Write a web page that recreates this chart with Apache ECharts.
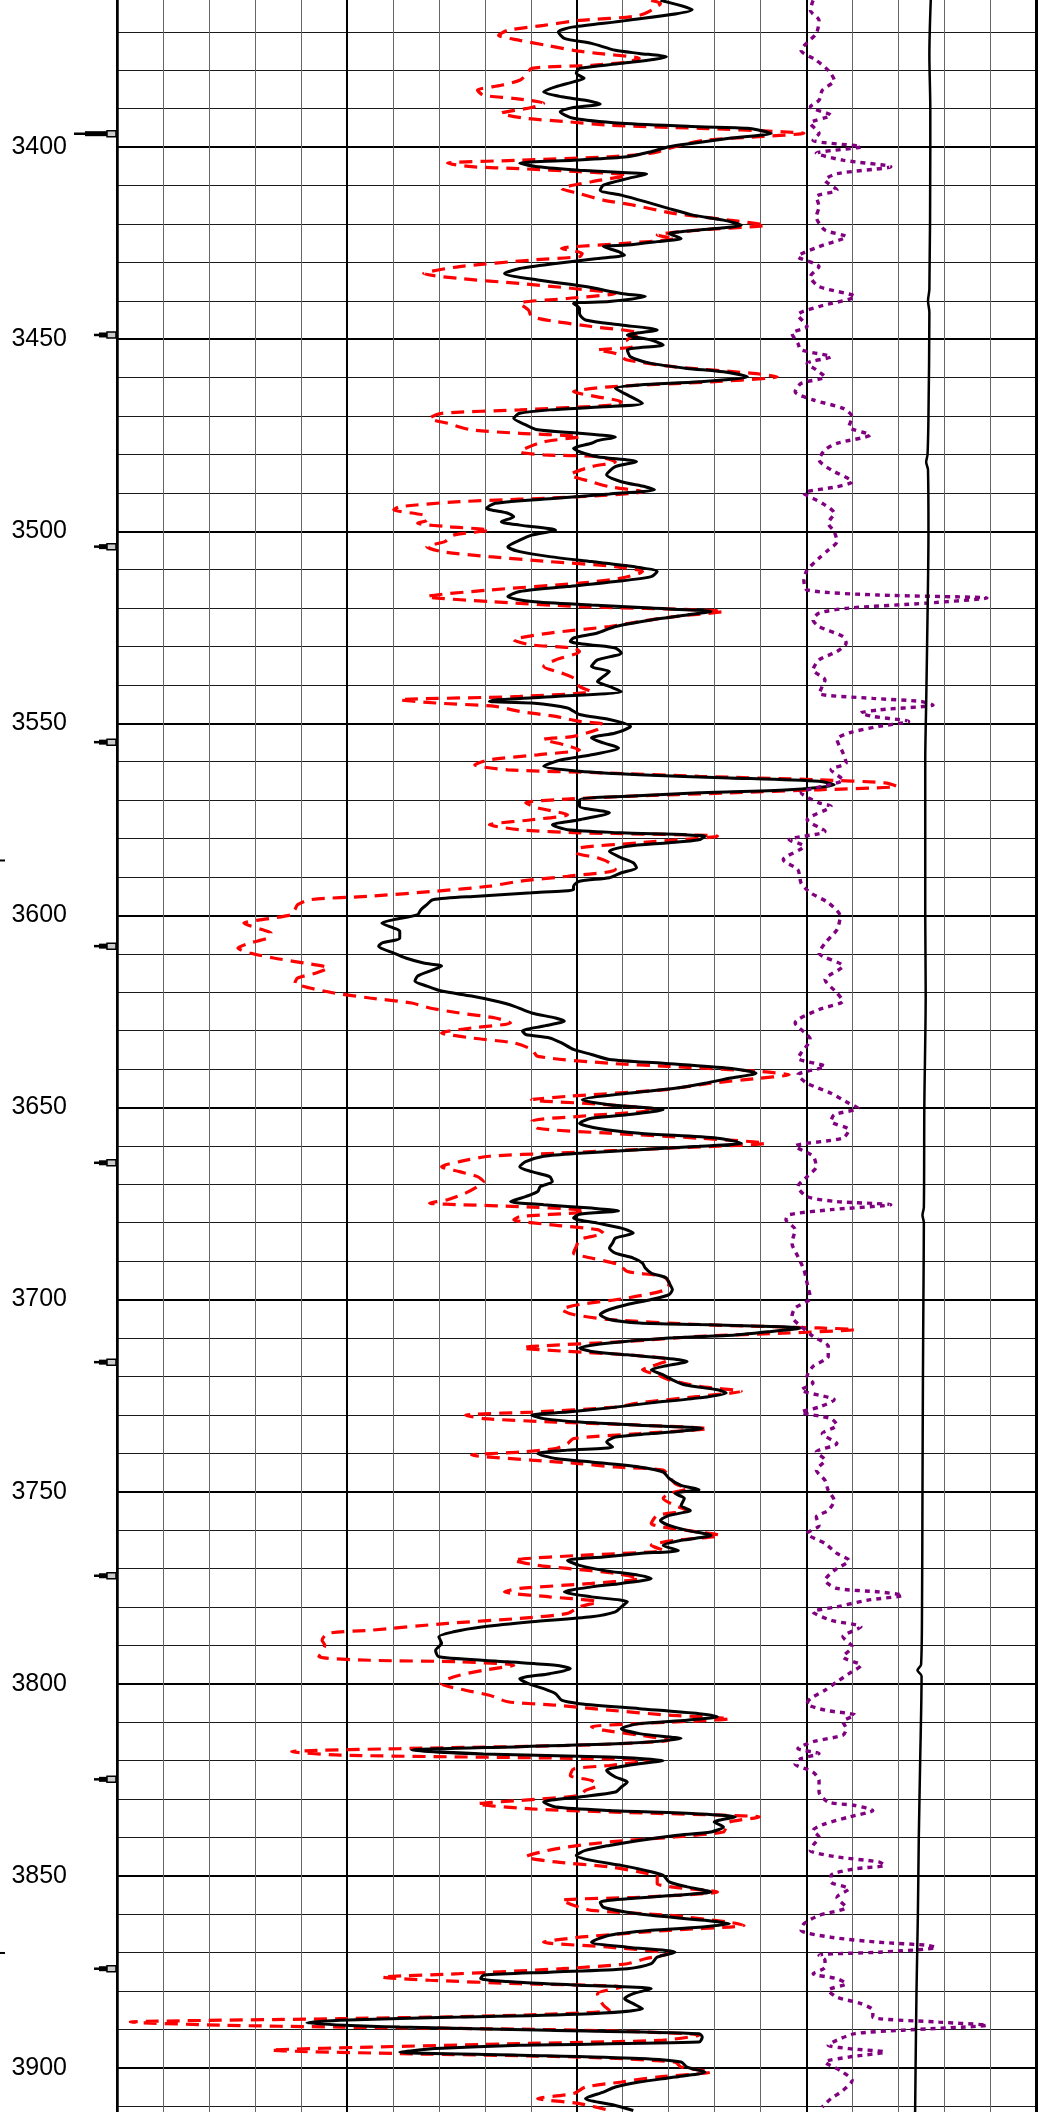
<!DOCTYPE html>
<html>
<head>
<meta charset="utf-8">
<script src="https://cdn.jsdelivr.net/npm/echarts@6/dist/echarts.min.js"></script>
<style>
html,body{margin:0;padding:0;background:#fff;}
#chart{width:1045px;height:2112px;}
</style>
</head>
<body>
<div id="chart"></div>
<script>
// depth range shown
const depthTop = 3361.7;
const depthBottom = 3911.5;
// depth labels on the left
const depthLabels = [3400, 3450, 3500, 3550, 3600, 3650, 3700, 3750, 3800, 3850, 3900];
// horizontal grid every 10, bold every 50
const minorDepthLines = [];
for (let d = 3370; d <= 3910; d += 10) minorDepthLines.push(d);
const majorDepthLines = depthLabels.slice();

// solid black curve [value, depth]
const blackCurve = [
[11.82,3361.8],[12.51,3364.2],[11.10,3367.0],[9.93,3368.7],[9.60,3370.0],[9.73,3371.7],[10.32,3373.0],[10.84,3374.8],[11.36,3375.6],[11.95,3376.5],[10.97,3378.2],[10.06,3379.5],[9.99,3380.8],[10.16,3382.1],[9.93,3383.0],[9.54,3384.3],[9.28,3385.6],[9.67,3386.9],[10.19,3387.8],[10.51,3388.8],[9.93,3389.7],[9.64,3390.8],[9.93,3392.5],[10.97,3393.8],[12.66,3394.7],[13.71,3395.1],[14.23,3396.4],[13.32,3397.7],[12.53,3399.0],[12.01,3399.9],[11.62,3401.2],[11.10,3402.5],[9.93,3403.4],[8.76,3404.2],[9.15,3405.1],[10.06,3406.0],[11.10,3406.7],[11.52,3407.0],[11.10,3408.2],[10.58,3409.9],[10.51,3411.2],[10.97,3412.5],[11.49,3414.2],[12.01,3416.0],[12.53,3417.7],[13.19,3419.0],[13.58,3420.3],[12.66,3421.6],[12.01,3422.5],[12.27,3423.8],[11.75,3424.6],[11.10,3425.5],[10.58,3425.9],[10.91,3427.2],[11.04,3428.1],[10.45,3429.0],[9.54,3430.3],[8.76,3431.6],[8.43,3432.9],[9.15,3434.6],[10.19,3436.3],[10.97,3438.1],[11.49,3438.9],[10.71,3440.2],[9.93,3440.7],[10.06,3442.0],[10.06,3443.3],[10.19,3445.0],[10.97,3446.3],[11.75,3447.6],[11.10,3448.9],[11.62,3450.2],[11.88,3451.5],
[11.10,3452.8],[11.17,3454.6],[11.62,3456.3],[12.40,3457.6],[13.19,3458.5],[13.71,3459.8],[12.66,3461.1],[11.36,3461.9],[10.84,3462.8],[11.10,3464.5],[11.43,3466.7],[10.58,3467.6],[9.41,3468.4],[8.76,3469.3],[8.63,3470.6],[8.89,3472.3],[9.15,3473.6],[10.06,3474.5],[10.84,3475.5],[10.45,3476.4],[10.32,3477.1],[9.93,3478.4],[10.06,3479.3],[10.45,3480.6],[11.30,3481.9],[10.84,3483.2],[10.65,3485.3],[10.97,3487.1],[11.49,3488.4],[11.69,3489.2],[10.71,3490.3],[9.54,3491.4],[8.23,3492.7],[8.04,3494.0],[8.50,3495.3],[8.63,3496.2],[8.36,3497.5],[8.76,3498.4],[9.54,3499.7],[9.02,3501.0],[8.76,3502.3],[8.50,3504.0],[8.76,3505.3],[9.41,3506.6],[10.32,3507.9],[11.23,3509.2],[11.75,3510.5],[11.62,3511.8],[10.84,3513.1],[9.80,3514.4],[8.76,3515.7],[8.50,3517.0],[9.02,3518.3],[10.32,3519.2],[11.62,3520.0],[12.92,3520.9],[12.40,3521.8],[11.62,3523.1],[10.84,3524.8],[10.45,3526.5],[9.93,3527.8],[9.86,3528.7],[10.32,3529.6],[10.84,3530.4],[10.97,3531.7],[10.45,3533.5],[10.32,3535.2],[10.71,3536.5],[10.58,3537.8],[10.45,3539.1],[10.71,3540.4],[10.97,3541.7],[9.54,3543.0],[8.23,3543.9],[8.10,3544.3],
[9.02,3544.7],[9.80,3546.0],[10.06,3547.7],[10.71,3549.0],[11.17,3550.8],[10.84,3552.5],[10.32,3553.8],[10.58,3555.1],[10.91,3556.4],[10.32,3558.2],[9.67,3559.5],[9.28,3561.2],[10.06,3562.5],[11.36,3563.4],[13.32,3564.2],[15.27,3565.1],[15.60,3566.0],[14.62,3567.3],[12.66,3568.1],[11.10,3569.0],[10.06,3569.9],[10.06,3571.6],[10.71,3573.3],[10.06,3575.1],[9.47,3576.4],[9.80,3577.7],[10.97,3578.5],[12.79,3579.4],[12.66,3580.3],[12.01,3581.1],[11.10,3582.0],[10.71,3583.3],[10.97,3585.0],[11.23,3586.3],[11.30,3587.6],[10.97,3588.9],[10.71,3590.2],[10.06,3591.1],[9.93,3592.4],[9.93,3593.3],[9.02,3594.1],[7.84,3595.0],[6.87,3595.9],[6.74,3597.2],[6.61,3598.5],[6.54,3599.8],[6.02,3601.1],[5.76,3602.0],[6.02,3603.3],[6.15,3604.1],[6.15,3605.9],[5.76,3607.2],[5.69,3608.0],[6.02,3609.8],[6.28,3611.1],[6.67,3612.4],[7.06,3613.2],[6.80,3614.5],[6.54,3615.8],[6.48,3617.1],[6.74,3618.4],[7.06,3619.7],[7.71,3621.0],[8.23,3622.3],[8.63,3623.6],[9.02,3625.4],[9.54,3626.7],[9.73,3627.5],[9.28,3628.8],[8.82,3630.1],[8.89,3631.0],[9.41,3631.9],[9.67,3633.2],[9.93,3634.9],[10.32,3636.2],[10.71,3637.5],
[11.88,3638.5],[13.32,3639.8],[13.90,3641.1],[13.32,3642.4],[12.79,3643.7],[12.14,3645.0],[11.10,3646.3],[10.12,3648.0],[10.71,3649.3],[11.88,3650.6],[11.10,3651.9],[10.32,3652.8],[10.06,3654.1],[10.45,3655.4],[11.36,3656.7],[13.06,3658.0],[13.58,3659.3],[12.66,3660.1],[11.36,3661.0],[10.06,3661.9],[9.28,3662.7],[8.89,3664.1],[8.76,3665.4],[9.02,3666.7],[9.41,3668.0],[9.47,3669.3],[9.21,3670.6],[9.15,3671.9],[8.89,3673.2],[8.56,3674.5],[9.28,3675.3],[10.32,3676.2],[10.91,3676.9],[10.06,3677.8],[9.93,3678.8],[10.45,3680.1],[10.97,3681.4],[11.23,3682.7],[10.84,3684.0],[10.78,3685.3],[10.71,3686.6],[10.84,3687.9],[11.23,3689.2],[11.43,3690.5],[11.49,3691.8],[11.62,3693.1],[11.95,3694.4],[12.01,3695.7],[12.08,3697.4],[12.01,3698.7],[11.62,3700.0],[11.10,3701.3],[10.71,3702.6],[10.51,3703.9],[10.71,3705.2],[11.36,3706.1],[12.66,3706.5],[14.23,3707.0],[14.88,3707.4],[14.23,3708.3],[13.45,3709.2],[12.01,3710.0],[10.71,3711.3],[10.06,3712.6],[10.32,3713.5],[11.10,3714.4],[11.88,3715.2],[12.40,3716.1],[11.88,3717.4],[11.62,3718.3],[11.88,3719.6],[12.08,3720.9],[12.34,3722.2],[13.06,3723.5],[13.25,3724.3],[12.66,3725.6],[11.62,3726.9],[10.71,3728.2],
[9.80,3729.3],[9.02,3730.1],[9.28,3731.0],[10.06,3731.9],[11.36,3732.7],[12.73,3733.6],[11.62,3734.9],[10.84,3735.8],[10.65,3737.1],[10.78,3738.4],[9.80,3739.2],[9.15,3740.1],[9.54,3741.4],[10.32,3742.3],[11.36,3743.6],[11.88,3744.9],[12.01,3746.6],[12.27,3748.4],[12.66,3749.5],[12.14,3750.5],[12.34,3751.8],[12.27,3753.6],[12.47,3754.9],[12.01,3756.2],[11.82,3757.5],[12.01,3758.8],[12.40,3760.1],[12.92,3761.4],[12.27,3762.7],[11.88,3764.0],[12.21,3765.3],[11.36,3766.1],[10.58,3767.0],[9.80,3767.9],[10.06,3769.2],[10.58,3770.5],[11.36,3771.8],[11.62,3772.6],[10.97,3773.9],[10.32,3774.8],[9.73,3776.1],[10.32,3777.4],[11.10,3778.7],[10.97,3780.0],[10.84,3781.3],[10.32,3782.6],[9.02,3783.9],[7.97,3785.2],[7.32,3786.5],[7.00,3787.8],[7.06,3789.5],[6.93,3791.3],[7.00,3793.0],[8.50,3794.3],[9.54,3795.2],[9.86,3796.1],[9.41,3797.4],[8.76,3798.7],[8.95,3800.0],[9.28,3801.3],[9.54,3802.6],[9.67,3804.3],[10.06,3805.2],[11.36,3806.5],[12.66,3807.8],[13.06,3808.6],[12.40,3809.5],[11.36,3810.4],[10.97,3811.7],[11.36,3813.0],[12.27,3814.3],[10.97,3815.6],[8.76,3816.4],[6.41,3817.3],[7.97,3818.3],[10.71,3819.1],
[11.88,3820.0],[11.10,3821.3],[10.65,3822.6],[10.84,3824.3],[11.10,3825.6],[10.97,3826.9],[10.84,3828.2],[10.06,3829.5],[9.28,3830.8],[9.54,3832.1],[10.71,3833.0],[12.66,3833.9],[13.45,3834.7],[12.99,3836.0],[13.19,3837.3],[12.92,3838.6],[12.14,3839.5],[11.36,3840.8],[10.71,3842.1],[10.19,3843.4],[9.99,3844.7],[10.32,3846.0],[10.97,3847.3],[11.49,3848.6],[11.88,3849.9],[12.01,3851.6],[12.40,3852.9],[12.92,3854.2],[12.14,3855.1],[11.10,3856.0],[10.51,3856.9],[10.58,3858.2],[11.10,3859.5],[11.62,3860.3],[12.79,3861.6],[13.32,3862.5],[12.66,3863.4],[11.62,3864.2],[10.71,3865.5],[10.32,3867.3],[11.10,3868.6],[12.14,3869.9],[11.75,3871.2],[11.62,3872.9],[11.10,3874.2],[9.41,3875.1],[7.97,3875.9],[7.91,3876.8],[8.76,3877.7],[10.06,3878.5],[11.62,3879.4],[11.23,3880.7],[11.04,3882.0],[11.23,3883.3],[11.43,3884.6],[10.32,3885.9],[7.45,3886.8],[4.85,3887.6],[4.13,3888.3],[6.15,3889.4],[9.41,3890.2],[12.66,3891.1],[12.73,3892.0],[12.66,3893.3],[8.76,3894.1],[6.93,3895.0],[6.15,3895.9],[8.76,3896.7],[11.36,3897.6],[12.27,3898.5],[12.40,3899.8],[12.79,3901.1],[12.14,3902.4],[11.36,3903.7],[10.84,3905.0],[10.58,3906.3],[10.19,3908.0],[10.84,3909.8],[11.23,3911.1]
];

// red dashed curve [value, depth]
const redCurve = [
[11.62,3361.8],[11.82,3362.6],[11.36,3365.7],[10.06,3367.0],[9.28,3368.3],[8.50,3369.6],[8.30,3370.9],[8.76,3372.2],[9.34,3373.5],[9.93,3374.8],[10.45,3375.6],[11.36,3376.9],[11.10,3377.8],[10.32,3378.7],[9.02,3379.5],[8.89,3381.3],[8.76,3382.6],[8.36,3383.9],[7.84,3385.2],[7.97,3386.5],[8.63,3387.3],[9.28,3388.6],[9.02,3389.7],[8.36,3391.2],[8.89,3392.5],[9.80,3393.4],[10.71,3394.3],[12.66,3395.1],[14.49,3396.0],[14.94,3396.4],[13.97,3397.3],[12.79,3398.2],[12.14,3399.9],[11.62,3401.6],[10.71,3402.5],[8.76,3403.4],[7.19,3404.2],[7.71,3405.1],[8.76,3405.6],[10.06,3406.4],[11.10,3407.3],[10.32,3409.0],[9.67,3410.8],[10.06,3412.1],[10.58,3413.8],[11.23,3415.1],[12.14,3417.3],[13.32,3419.0],[14.10,3420.3],[12.66,3421.6],[11.75,3422.9],[12.14,3423.8],[10.97,3425.1],[9.67,3426.4],[10.12,3427.7],[10.06,3428.5],[9.02,3429.4],[7.45,3431.1],[6.67,3432.9],[7.45,3434.2],[8.76,3435.5],[9.93,3436.8],[10.84,3438.1],[9.80,3439.4],[8.76,3440.7],[8.95,3442.4],[9.02,3444.1],[9.54,3445.4],[10.32,3446.7],[11.36,3448.5],[11.10,3450.2],[11.23,3451.9],
[10.45,3452.8],[10.84,3453.7],[11.10,3455.4],[12.14,3457.2],[13.84,3458.9],[14.36,3459.8],[12.92,3461.1],[10.71,3462.4],[9.93,3463.7],[10.45,3465.0],[10.97,3466.3],[10.84,3467.1],[8.76,3468.4],[7.06,3469.3],[6.80,3470.6],[7.19,3471.9],[7.71,3473.6],[8.76,3474.5],[10.06,3475.4],[9.28,3476.7],[8.89,3478.4],[8.76,3479.3],[9.28,3480.1],[10.45,3480.6],[10.84,3481.9],[10.32,3483.2],[9.86,3485.3],[10.32,3487.1],[10.71,3488.4],[11.43,3489.7],[10.06,3491.0],[7.45,3492.3],[6.15,3493.6],[6.02,3494.4],[6.67,3495.8],[6.74,3497.1],[6.54,3497.9],[7.19,3498.8],[8.10,3499.7],[7.32,3501.0],[7.13,3502.7],[6.74,3504.0],[7.06,3505.3],[8.10,3506.6],[9.41,3507.9],[10.84,3509.2],[11.43,3510.5],[10.97,3512.2],[10.06,3513.5],[8.10,3515.3],[6.74,3517.0],[8.10,3518.3],[10.06,3519.6],[13.19,3520.9],[12.14,3522.2],[11.36,3523.5],[10.71,3524.8],[9.41,3526.5],[8.63,3528.3],[9.02,3529.6],[9.93,3530.4],[10.06,3531.3],[9.54,3533.5],[9.28,3535.2],[9.67,3536.9],[9.93,3538.2],[10.06,3540.4],[10.32,3541.7],[8.76,3543.0],[6.15,3543.9],
[6.93,3544.7],[8.23,3545.6],[8.76,3546.9],[9.54,3548.2],[10.06,3549.5],[10.58,3550.3],[10.45,3551.6],[9.93,3553.4],[9.28,3554.2],[9.73,3555.6],[10.06,3556.9],[9.15,3558.2],[8.10,3559.5],[7.78,3560.8],[8.50,3562.1],[10.58,3562.9],[12.66,3563.8],[15.27,3564.7],[16.70,3565.5],[16.96,3566.4],[15.27,3567.3],[13.32,3568.1],[11.10,3569.0],[9.54,3569.9],[8.89,3570.7],[9.15,3572.0],[9.80,3573.8],[9.02,3575.1],[8.10,3576.4],[8.76,3577.7],[10.06,3578.5],[13.06,3579.4],[11.36,3581.1],[10.06,3582.4],[9.99,3583.7],[10.45,3585.0],[10.71,3586.3],[10.84,3588.1],[9.80,3589.8],[8.76,3591.1],[8.10,3592.4],[6.93,3593.7],[5.50,3595.0],[4.20,3595.9],[3.93,3597.2],[3.87,3598.5],[3.80,3599.8],[3.15,3601.1],[2.76,3602.0],[3.15,3603.7],[3.35,3604.6],[3.28,3605.9],[2.89,3607.2],[2.63,3608.5],[2.89,3609.8],[3.41,3611.1],[4.07,3612.4],[4.59,3613.7],[4.33,3615.0],[3.93,3616.3],[3.87,3617.6],[4.20,3618.9],[4.72,3620.2],[5.50,3621.5],[6.41,3622.8],[6.80,3624.1],[7.45,3625.4],[8.23,3626.7],[8.56,3628.0],[7.71,3629.3],[7.06,3630.6],[7.71,3631.9],[8.63,3633.2],[9.02,3634.9],
[9.15,3636.7],[10.71,3638.5],[12.01,3639.3],[13.97,3640.6],[14.62,3641.5],[13.97,3642.4],[12.92,3643.7],[11.88,3645.4],[9.80,3647.1],[9.02,3648.0],[10.71,3649.3],[11.75,3650.6],[10.06,3652.3],[9.02,3653.6],[9.15,3655.4],[10.71,3656.7],[12.66,3658.0],[14.10,3659.3],[12.01,3660.6],[9.54,3661.9],[8.10,3662.7],[7.45,3664.1],[7.06,3665.4],[7.45,3666.7],[7.84,3668.0],[7.97,3669.3],[7.84,3670.6],[7.58,3672.3],[7.19,3674.0],[6.80,3674.9],[7.45,3675.3],[8.76,3675.8],[10.06,3676.6],[10.19,3677.1],[8.76,3678.4],[8.63,3679.2],[9.41,3680.5],[10.45,3681.8],[10.58,3682.7],[10.06,3684.4],[9.99,3686.2],[9.93,3687.9],[10.32,3689.2],[10.91,3690.9],[11.10,3692.7],[11.88,3694.0],[12.01,3695.7],[11.95,3697.4],[11.10,3699.6],[10.06,3701.3],[9.67,3702.6],[9.93,3703.9],[10.71,3705.2],[12.66,3706.5],[15.27,3707.4],[16.05,3707.8],[14.62,3708.7],[12.66,3709.6],[11.10,3710.9],[9.02,3712.2],[8.82,3712.6],[9.80,3713.5],[11.10,3714.4],[12.01,3715.7],[11.62,3717.4],[11.43,3718.3],[11.75,3719.6],[12.01,3720.9],[12.66,3722.6],[13.58,3723.9],[12.66,3725.2],[11.36,3726.9],
[10.84,3728.0],[9.02,3729.3],[7.58,3730.1],[7.97,3731.0],[9.54,3731.9],[11.36,3732.7],[12.86,3733.6],[11.36,3734.9],[9.93,3736.2],[9.80,3737.5],[9.54,3738.8],[8.76,3739.7],[7.71,3740.5],[9.02,3741.8],[10.06,3742.7],[10.84,3743.6],[11.88,3744.4],[12.01,3746.2],[12.14,3747.9],[12.40,3749.2],[12.01,3750.5],[11.88,3751.8],[12.14,3753.6],[12.40,3754.9],[11.75,3756.2],[11.62,3758.3],[12.40,3760.1],[13.12,3761.4],[12.14,3762.7],[11.62,3764.0],[11.88,3765.3],[10.06,3766.6],[8.63,3767.9],[9.15,3769.2],[9.80,3770.0],[10.84,3771.3],[11.36,3772.6],[10.32,3773.9],[8.76,3775.2],[8.43,3776.1],[9.41,3777.4],[10.45,3778.7],[10.06,3780.0],[9.80,3781.7],[8.76,3783.0],[7.19,3784.3],[5.50,3786.1],[4.59,3786.9],[4.46,3788.7],[4.52,3790.0],[4.46,3791.7],[4.39,3793.0],[5.50,3793.9],[7.45,3794.3],[8.63,3795.2],[7.97,3796.5],[7.45,3797.8],[7.13,3799.1],[7.06,3800.0],[7.58,3801.7],[8.10,3803.0],[8.50,3804.7],[9.54,3805.6],[10.71,3806.9],[12.01,3808.2],[13.32,3809.1],[11.36,3810.4],[10.32,3811.2],[10.58,3812.1],[11.36,3813.4],[12.01,3814.7],[10.06,3816.0],[6.15,3816.9],[3.80,3817.7],[4.85,3818.6],
[11.62,3820.0],[10.71,3821.3],[9.93,3822.2],[9.86,3823.9],[10.32,3825.2],[10.45,3826.5],[10.19,3827.8],[10.06,3829.1],[8.76,3830.4],[7.84,3831.3],[9.02,3832.6],[10.71,3833.4],[13.32,3834.3],[13.97,3834.7],[13.32,3836.0],[13.25,3837.3],[13.19,3838.6],[12.14,3839.9],[10.71,3841.2],[9.54,3843.0],[8.89,3845.1],[9.54,3846.4],[10.71,3847.7],[11.36,3849.0],[11.75,3850.3],[11.75,3852.1],[13.06,3854.2],[11.36,3855.6],[9.67,3856.4],[9.93,3857.7],[10.32,3859.0],[12.01,3860.3],[13.32,3862.1],[13.64,3862.9],[12.01,3864.2],[10.06,3866.0],[9.28,3867.3],[10.71,3868.6],[12.01,3870.3],[11.49,3871.6],[11.10,3872.9],[9.67,3874.2],[7.45,3875.5],[5.76,3876.4],[6.80,3877.2],[8.76,3878.1],[10.97,3879.0],[10.45,3880.7],[10.51,3882.4],[10.58,3883.7],[10.71,3885.0],[8.76,3886.3],[4.85,3887.2],[0.29,3888.1],[2.24,3888.9],[4.85,3889.4],[10.06,3890.2],[12.66,3891.5],[11.88,3892.8],[8.76,3893.7],[5.50,3894.6],[3.35,3895.4],[6.15,3896.3],[10.06,3897.2],[12.14,3898.5],[12.27,3899.8],[12.92,3901.1],[11.75,3902.4],[10.97,3903.7],[10.19,3905.0],[9.93,3906.7],[9.15,3908.0],[10.06,3909.3],[10.71,3911.1]
];

// purple dotted curve [value, depth]
const purpleCurve = [
[15.14,3361.8],[15.08,3364.4],[15.27,3367.0],[15.21,3370.4],[14.88,3374.8],[15.21,3377.4],[15.47,3380.0],[15.60,3382.6],[15.34,3385.2],[15.27,3387.8],[15.08,3389.5],[15.53,3391.7],[15.08,3393.8],[15.27,3396.4],[15.14,3398.2],[16.18,3399.9],[15.21,3401.6],[15.79,3403.4],[16.83,3405.1],[15.66,3406.9],[15.40,3408.6],[15.66,3411.2],[15.21,3412.9],[15.27,3415.5],[15.21,3418.1],[15.40,3421.6],[15.86,3423.3],[15.27,3425.9],[14.81,3428.5],[15.27,3431.1],[15.08,3433.7],[15.27,3436.3],[16.05,3438.9],[15.27,3441.5],[14.81,3443.7],[15.01,3446.7],[14.68,3448.5],[14.81,3451.1],
[14.88,3452.8],[15.53,3454.6],[15.01,3456.3],[15.21,3458.0],[15.40,3459.8],[14.88,3461.5],[14.75,3463.7],[15.14,3465.8],[15.79,3468.0],[15.99,3470.2],[15.92,3472.8],[16.38,3474.9],[15.66,3477.1],[15.40,3478.8],[15.27,3481.4],[15.53,3484.0],[15.99,3487.1],[15.66,3488.4],[14.94,3490.1],[15.34,3492.7],[15.60,3495.3],[15.47,3497.9],[15.60,3500.1],[15.66,3502.7],[15.47,3504.9],[15.27,3507.0],[15.01,3510.1],[14.94,3512.7],[15.01,3515.3],[16.57,3516.6],[18.92,3517.4],[17.62,3518.7],[15.92,3520.0],[15.27,3521.3],[15.14,3523.1],[15.27,3524.8],[15.79,3527.4],[15.86,3529.1],[15.66,3531.3],[15.27,3533.5],[15.14,3536.1],[15.40,3538.7],[15.34,3540.4],[15.27,3542.2],[16.44,3543.5],[17.49,3544.3],[17.75,3545.2],
[16.57,3546.5],[16.18,3547.3],[16.44,3548.2],[17.22,3549.5],[16.57,3550.8],[15.92,3552.5],[15.66,3554.2],[15.79,3557.7],[15.86,3560.3],[15.53,3562.1],[15.79,3564.7],[14.88,3568.1],[15.27,3570.7],[15.53,3571.6],[15.01,3575.1],[15.40,3578.1],[14.62,3580.3],[14.94,3582.0],[14.49,3585.5],[14.81,3588.1],[14.88,3591.6],[15.08,3594.1],[15.47,3596.7],[15.73,3600.2],[15.66,3603.7],[15.40,3607.2],[15.27,3609.8],[15.79,3613.2],[15.40,3616.7],[15.66,3620.2],[15.79,3622.3],[15.27,3624.5],[14.75,3628.0],[15.08,3632.3],[14.88,3635.8],
[14.81,3637.2],[15.40,3639.3],[14.81,3641.5],[15.01,3643.7],[15.53,3646.3],[15.92,3648.9],[16.12,3650.2],[15.60,3651.9],[15.53,3653.6],[15.92,3655.8],[15.79,3658.0],[14.75,3660.1],[15.14,3662.7],[15.21,3665.4],[15.01,3668.0],[14.81,3670.6],[15.01,3673.2],[15.66,3674.5],[16.83,3675.3],[15.53,3676.6],[14.62,3677.9],[14.55,3679.2],[14.75,3681.8],[14.68,3685.3],[14.81,3688.8],[14.94,3692.2],[15.01,3695.7],[15.08,3699.6],[14.75,3702.2],[14.68,3704.4],[14.88,3707.0],[15.14,3709.6],[15.47,3712.2],[15.47,3714.8],[15.14,3717.4],[15.01,3720.0],[15.14,3721.7],[14.88,3723.5],[15.60,3726.1],
[15.27,3728.0],[14.88,3729.3],[15.53,3731.0],[15.66,3732.7],[15.34,3734.9],[15.66,3737.5],[15.21,3739.7],[15.40,3741.8],[15.21,3744.4],[15.40,3747.1],[15.47,3749.7],[15.60,3752.3],[15.47,3754.9],[15.21,3756.6],[15.27,3758.8],[15.01,3760.9],[15.40,3763.5],[15.66,3766.1],[15.92,3767.9],[15.60,3770.5],[15.40,3773.1],[15.66,3775.2],[16.57,3776.1],[17.09,3777.0],[16.31,3778.3],[15.66,3780.0],[15.14,3781.3],[15.53,3783.5],[16.18,3785.2],[15.79,3787.8],[15.99,3790.4],[15.79,3793.0],[16.18,3795.2],[15.92,3797.4],[15.66,3799.5],[15.40,3801.7],[15.08,3803.9],[15.01,3805.2],[15.40,3806.9],[16.05,3808.2],[15.79,3809.9],[15.86,3811.7],[15.79,3813.4],[15.14,3815.1],[14.81,3816.9],[15.27,3818.2],[14.88,3819.5],
[14.75,3820.9],[15.14,3823.0],[15.27,3825.2],[15.27,3828.2],[15.47,3830.8],[16.05,3831.7],[16.44,3833.0],[15.92,3834.7],[15.40,3836.5],[15.14,3838.2],[15.27,3839.9],[15.14,3842.1],[15.08,3843.4],[15.66,3845.1],[16.57,3846.4],[16.70,3847.3],[16.05,3848.2],[15.53,3849.9],[15.53,3851.6],[15.92,3853.4],[15.66,3855.6],[15.86,3858.2],[15.27,3860.3],[14.94,3862.5],[14.88,3864.2],[15.53,3866.0],[16.57,3867.3],[17.62,3868.1],[17.81,3868.7],[16.57,3869.9],[15.27,3870.7],[15.40,3872.0],[15.40,3873.8],[15.14,3875.5],[15.66,3876.8],[15.86,3878.1],[15.47,3879.8],[15.66,3881.6],[16.18,3883.3],[16.44,3885.0],[16.44,3886.8],[17.88,3888.1],[18.92,3888.9],[17.09,3890.2],[16.05,3891.1],[15.66,3892.8],[15.47,3894.1],[15.92,3895.0],[16.70,3895.9],[15.92,3897.2],[15.40,3898.5],[15.73,3900.7],[15.99,3903.3],[15.79,3905.9],[15.53,3908.0],[15.34,3910.2]
];

// thin black curve on the right [value, depth]
const rightCurve = [
[17.70,3361.7],[17.67,3376],[17.69,3390],[17.69,3400],[17.67,3437],[17.64,3440],[17.67,3443],[17.65,3470],[17.63,3480],[17.60,3482],[17.64,3484],[17.65,3500],[17.62,3530],[17.60,3545],[17.58,3560],[17.58,3580],[17.58,3600],[17.59,3620],[17.56,3650],[17.55,3676],[17.52,3678],[17.55,3680],[17.54,3700],[17.53,3720],[17.52,3750],[17.51,3780],[17.49,3795],[17.41,3796.5],[17.50,3798],[17.47,3820],[17.44,3840],[17.42,3860],[17.39,3880],[17.37,3900],[17.36,3911.5]
];

// depth markers on the left of the track
const markerDepths = [3396.5, 3448.9, 3504.0, 3554.9, 3608.0, 3664.4, 3716.3, 3771.9, 3824.9, 3874.2];
// short ticks at the far left edge
const edgeTickDepths = [3585.7, 3870.1];

const chart = echarts.init(document.getElementById('chart'), null, {renderer: 'canvas'});

const yBase = {
  type: 'value', inverse: true, min: depthTop, max: depthBottom, gridIndex: 0
};

const option = {
  animation: false,
  backgroundColor: '#ffffff',
  grid: {left: 117, right: 8.5, top: 0, bottom: 0, containLabel: false},
  xAxis: [
    {type: 'value', min: 0, max: 20, interval: 1,
     axisLine: {show: false}, axisTick: {show: false}, axisLabel: {show: false},
     splitLine: {show: true, lineStyle: {color: '#666', width: 1}}},
    {type: 'value', min: 0, max: 20, interval: 5,
     axisLine: {show: false}, axisTick: {show: false}, axisLabel: {show: false},
     splitLine: {show: true, lineStyle: {color: '#000', width: 2}}}
  ],
  yAxis: [
    Object.assign({}, yBase, {
      position: 'left',
      axisLine: {show: true, onZero: false, lineStyle: {color: '#000', width: 2.5}},
      axisTick: {show: false, customValues: minorDepthLines},
      axisLabel: {show: true, customValues: depthLabels, margin: 50, fontSize: 25,
                  fontFamily: 'Liberation Sans, Arial, sans-serif', color: '#000',
                  formatter: function (v) { return String(Math.round(v)); }},
      splitLine: {show: true, lineStyle: {color: '#1a1a1a', width: 1}}
    }),
    Object.assign({}, yBase, {
      position: 'right',
      axisLine: {show: true, onZero: false, lineStyle: {color: '#000', width: 3}},
      axisTick: {show: false, customValues: majorDepthLines},
      axisLabel: {show: false},
      splitLine: {show: true, lineStyle: {color: '#000', width: 2}}
    })
  ],
  series: [
    {
      name: 'dashed', type: 'line', xAxisIndex: 0, yAxisIndex: 0,
      data: redCurve, showSymbol: false, smooth: 0.25, z: 3,
      lineStyle: {color: '#ff0000', width: 3.2, type: [13, 8], cap: 'butt'}
    },
    {
      name: 'solid', type: 'line', xAxisIndex: 0, yAxisIndex: 0,
      data: blackCurve, showSymbol: false, smooth: 0.25, z: 4,
      lineStyle: {color: '#000', width: 3}
    },
    {
      name: 'dotted', type: 'line', xAxisIndex: 0, yAxisIndex: 0,
      data: purpleCurve, showSymbol: false, smooth: 0.25, z: 4,
      lineStyle: {color: '#800080', width: 3.4, type: [5, 5], cap: 'butt'}
    },
    {
      name: 'right', type: 'line', xAxisIndex: 0, yAxisIndex: 0,
      data: rightCurve, showSymbol: false, smooth: 0.3, z: 4,
      lineStyle: {color: '#000', width: 2.5}
    },
    {
      name: 'markers', type: 'custom', xAxisIndex: 0, yAxisIndex: 0, z: 5, clip: false,
      data: markerDepths.map(d => [0, d]),
      renderItem: function (params, api) {
        const p = api.coord([api.value(0), api.value(1)]);
        const x0 = p[0], y = p[1];
        const first = params.dataIndex === 0;
        const lineStart = first ? x0 - 43 : x0 - 23;
        const barStart = first ? x0 - 32 : x0 - 18;
        return {type: 'group', children: [
          {type: 'line', shape: {x1: lineStart, y1: y, x2: x0 - 10, y2: y},
           style: {stroke: '#000', lineWidth: 2.5}},
          {type: 'rect', shape: {x: barStart, y: y - 2.5, width: (x0 - 10) - barStart, height: 5},
           style: {fill: '#000'}},
          {type: 'rect', shape: {x: x0 - 10, y: y - 3, width: 9, height: 6},
           style: {fill: '#ccc', stroke: '#000', lineWidth: 1.5}}
        ]};
      }
    },
    {
      name: 'edgeTicks', type: 'custom', xAxisIndex: 0, yAxisIndex: 0, z: 5, clip: false,
      data: edgeTickDepths.map(d => [0, d]),
      renderItem: function (params, api) {
        const p = api.coord([api.value(0), api.value(1)]);
        const y = p[1];
        return {type: 'line', shape: {x1: 0, y1: y, x2: 5, y2: y},
                style: {stroke: '#000', lineWidth: 2}};
      }
    }
  ]
};
chart.setOption(option);
</script>
</body>
</html>
